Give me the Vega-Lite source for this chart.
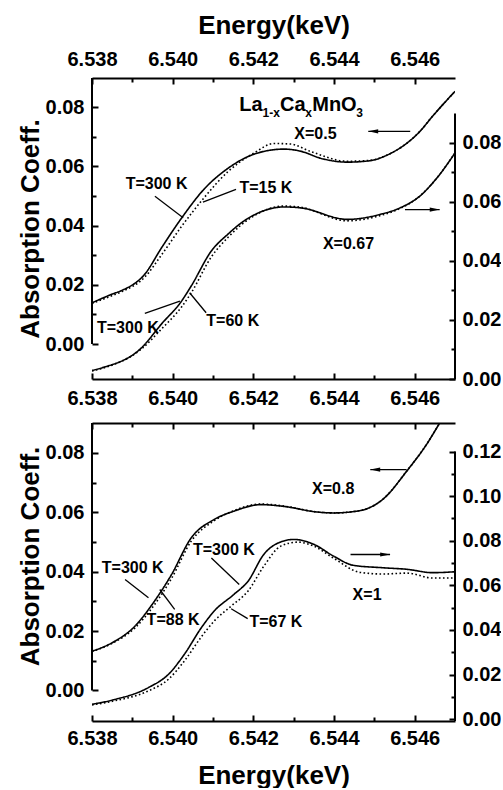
{
  "$schema": "https://vega.github.io/schema/vega-lite/v6.json",
  "padding": {"left": 17, "top": 12, "right": 0, "bottom": 0},
  "spacing": 44,
  "bounds": "flush",
  "config": {
    "font": "Liberation Sans",
    "view": {"stroke": null},
    "axis": {
      "labelFont": "Liberation Sans", "labelFontSize": 20, "labelFontWeight": "bold", "labelColor": "black",
      "titleFont": "Liberation Sans", "titleFontSize": 26, "titleFontWeight": "bold", "titleColor": "black",
      "tickColor": "black", "tickWidth": 2, "domainColor": "black", "domainWidth": 2, "grid": false,
      "labelFlush": false, "labelOverlap": false
    }
  },
  "datasets": {
    "x05": [
      {"E": 6.5380, "A": 0.0139, "T": 300}, {"E": 6.53849, "A": 0.0168, "T": 300}, {"E": 6.53874, "A": 0.0181, "T": 300},
      {"E": 6.53931, "A": 0.0236, "T": 300}, {"E": 6.53972, "A": 0.0324, "T": 300}, {"E": 6.54022, "A": 0.0425, "T": 300},
      {"E": 6.54078, "A": 0.0523, "T": 300}, {"E": 6.54138, "A": 0.0594, "T": 300}, {"E": 6.54202, "A": 0.0641, "T": 300},
      {"E": 6.54276, "A": 0.0658, "T": 300}, {"E": 6.54317, "A": 0.0651, "T": 300}, {"E": 6.54367, "A": 0.0627, "T": 300},
      {"E": 6.54433, "A": 0.0614, "T": 300}, {"E": 6.54490, "A": 0.0619, "T": 300}, {"E": 6.54532, "A": 0.0638, "T": 300},
      {"E": 6.54613, "A": 0.0718, "T": 300}, {"E": 6.54645, "A": 0.0770, "T": 300}, {"E": 6.5470, "A": 0.0853, "T": 300},
      {"E": 6.5380, "A": 0.0137, "T": 15}, {"E": 6.53849, "A": 0.0163, "T": 15}, {"E": 6.53874, "A": 0.0177, "T": 15},
      {"E": 6.53931, "A": 0.0226, "T": 15}, {"E": 6.53972, "A": 0.0300, "T": 15}, {"E": 6.54022, "A": 0.0397, "T": 15},
      {"E": 6.54078, "A": 0.0494, "T": 15}, {"E": 6.54138, "A": 0.0583, "T": 15}, {"E": 6.54202, "A": 0.0645, "T": 15},
      {"E": 6.54251, "A": 0.0677, "T": 15}, {"E": 6.54293, "A": 0.0675, "T": 15}, {"E": 6.54342, "A": 0.0650, "T": 15},
      {"E": 6.54433, "A": 0.0617, "T": 15}, {"E": 6.54490, "A": 0.0620, "T": 15}, {"E": 6.54532, "A": 0.0638, "T": 15},
      {"E": 6.54613, "A": 0.0718, "T": 15}, {"E": 6.54645, "A": 0.0770, "T": 15}, {"E": 6.5470, "A": 0.0853, "T": 15}
    ],
    "x067": [
      {"E": 6.5380, "A": 0.0029, "T": 300}, {"E": 6.53825, "A": 0.0038, "T": 300}, {"E": 6.53923, "A": 0.0106, "T": 300},
      {"E": 6.53972, "A": 0.0186, "T": 300}, {"E": 6.54022, "A": 0.0264, "T": 300}, {"E": 6.54046, "A": 0.0315, "T": 300},
      {"E": 6.54096, "A": 0.0434, "T": 300}, {"E": 6.54138, "A": 0.0492, "T": 300}, {"E": 6.54170, "A": 0.0529, "T": 300},
      {"E": 6.54202, "A": 0.0556, "T": 300}, {"E": 6.54276, "A": 0.0583, "T": 300}, {"E": 6.54317, "A": 0.0580, "T": 300},
      {"E": 6.54433, "A": 0.0541, "T": 300}, {"E": 6.54515, "A": 0.0558, "T": 300}, {"E": 6.54564, "A": 0.0580, "T": 300},
      {"E": 6.54613, "A": 0.0620, "T": 300}, {"E": 6.54655, "A": 0.0681, "T": 300}, {"E": 6.5470, "A": 0.0766, "T": 300},
      {"E": 6.5380, "A": 0.0027, "T": 60}, {"E": 6.53825, "A": 0.0036, "T": 60}, {"E": 6.53923, "A": 0.0102, "T": 60},
      {"E": 6.53972, "A": 0.0169, "T": 60}, {"E": 6.54022, "A": 0.0244, "T": 60}, {"E": 6.54046, "A": 0.0292, "T": 60},
      {"E": 6.54096, "A": 0.0414, "T": 60}, {"E": 6.54138, "A": 0.0481, "T": 60}, {"E": 6.54170, "A": 0.0522, "T": 60},
      {"E": 6.54202, "A": 0.0553, "T": 60}, {"E": 6.54276, "A": 0.0586, "T": 60}, {"E": 6.54317, "A": 0.0582, "T": 60},
      {"E": 6.54433, "A": 0.0536, "T": 60}, {"E": 6.54515, "A": 0.0554, "T": 60}, {"E": 6.54564, "A": 0.0578, "T": 60},
      {"E": 6.54613, "A": 0.0620, "T": 60}, {"E": 6.54655, "A": 0.0681, "T": 60}, {"E": 6.5470, "A": 0.0766, "T": 60}
    ],
    "x08": [
      {"E": 6.5380, "A": 0.0132, "T": 300}, {"E": 6.53849, "A": 0.0160, "T": 300}, {"E": 6.53906, "A": 0.0216, "T": 300},
      {"E": 6.53955, "A": 0.0301, "T": 300}, {"E": 6.53997, "A": 0.0390, "T": 300}, {"E": 6.54046, "A": 0.0514, "T": 300},
      {"E": 6.54103, "A": 0.0576, "T": 300}, {"E": 6.54152, "A": 0.0604, "T": 300}, {"E": 6.54219, "A": 0.0626, "T": 300},
      {"E": 6.54276, "A": 0.0620, "T": 300}, {"E": 6.54359, "A": 0.0601, "T": 300}, {"E": 6.54399, "A": 0.0598, "T": 300},
      {"E": 6.54465, "A": 0.0606, "T": 300}, {"E": 6.54522, "A": 0.0645, "T": 300}, {"E": 6.54581, "A": 0.0740, "T": 300},
      {"E": 6.54630, "A": 0.0830, "T": 300}, {"E": 6.54662, "A": 0.0901, "T": 300}, {"E": 6.5470, "A": 0.0990, "T": 300},
      {"E": 6.5380, "A": 0.0131, "T": 88}, {"E": 6.53849, "A": 0.0158, "T": 88}, {"E": 6.53906, "A": 0.0210, "T": 88},
      {"E": 6.53955, "A": 0.0289, "T": 88}, {"E": 6.53997, "A": 0.0377, "T": 88}, {"E": 6.54046, "A": 0.0503, "T": 88},
      {"E": 6.54103, "A": 0.0572, "T": 88}, {"E": 6.54152, "A": 0.0606, "T": 88}, {"E": 6.54219, "A": 0.0628, "T": 88},
      {"E": 6.54276, "A": 0.0621, "T": 88}, {"E": 6.54359, "A": 0.0601, "T": 88}, {"E": 6.54399, "A": 0.0598, "T": 88},
      {"E": 6.54465, "A": 0.0606, "T": 88}, {"E": 6.54522, "A": 0.0645, "T": 88}, {"E": 6.54581, "A": 0.0740, "T": 88},
      {"E": 6.54630, "A": 0.0830, "T": 88}, {"E": 6.54662, "A": 0.0901, "T": 88}, {"E": 6.5470, "A": 0.0990, "T": 88}
    ],
    "x1": [
      {"E": 6.5380, "A": 0.0067, "T": 300}, {"E": 6.53849, "A": 0.0085, "T": 300}, {"E": 6.53940, "A": 0.0142, "T": 300},
      {"E": 6.53990, "A": 0.0202, "T": 300}, {"E": 6.54029, "A": 0.0291, "T": 300}, {"E": 6.54071, "A": 0.0410, "T": 300},
      {"E": 6.54103, "A": 0.0485, "T": 300}, {"E": 6.54152, "A": 0.0560, "T": 300}, {"E": 6.54187, "A": 0.0619, "T": 300},
      {"E": 6.54226, "A": 0.0739, "T": 300}, {"E": 6.54268, "A": 0.0795, "T": 300}, {"E": 6.54300, "A": 0.0806, "T": 300},
      {"E": 6.54350, "A": 0.0784, "T": 300}, {"E": 6.54399, "A": 0.0731, "T": 300}, {"E": 6.54448, "A": 0.0690, "T": 300},
      {"E": 6.54522, "A": 0.0679, "T": 300}, {"E": 6.54581, "A": 0.0672, "T": 300}, {"E": 6.54645, "A": 0.0657, "T": 300},
      {"E": 6.5470, "A": 0.0661, "T": 300},
      {"E": 6.5380, "A": 0.0064, "T": 67}, {"E": 6.53849, "A": 0.0080, "T": 67}, {"E": 6.53940, "A": 0.0127, "T": 67},
      {"E": 6.53990, "A": 0.0180, "T": 67}, {"E": 6.54029, "A": 0.0261, "T": 67}, {"E": 6.54071, "A": 0.0369, "T": 67},
      {"E": 6.54103, "A": 0.0440, "T": 67}, {"E": 6.54145, "A": 0.0507, "T": 67}, {"E": 6.54187, "A": 0.0575, "T": 67},
      {"E": 6.54226, "A": 0.0686, "T": 67}, {"E": 6.54268, "A": 0.0776, "T": 67}, {"E": 6.54310, "A": 0.0794, "T": 67},
      {"E": 6.54350, "A": 0.0776, "T": 67}, {"E": 6.54399, "A": 0.0722, "T": 67}, {"E": 6.54465, "A": 0.0658, "T": 67},
      {"E": 6.54522, "A": 0.0651, "T": 67}, {"E": 6.54581, "A": 0.0655, "T": 67}, {"E": 6.54645, "A": 0.0633, "T": 67},
      {"E": 6.5470, "A": 0.0633, "T": 67}
    ],
    "lab_t": [
      {"E": 6.5396, "A": 0.0523, "label": "T=300 K"},
      {"E": 6.54231, "A": 0.0509, "label": "T=15 K"},
      {"E": 6.54354, "A": 0.0691, "label": "X=0.5"},
      {"E": 6.54436, "A": 0.0320, "label": "X=0.67"},
      {"E": 6.53889, "A": 0.0038, "label": "T=300 K"},
      {"E": 6.54149, "A": 0.0061, "label": "T=60 K"}
    ],
    "lead_t": [
      {"E": 6.53956, "A": 0.0499, "E2": 6.54026, "A2": 0.0426},
      {"E": 6.54157, "A": 0.0522, "E2": 6.54075, "A2": 0.0479},
      {"E": 6.53931, "A": 0.01035, "E2": 6.54018, "A2": 0.0145},
      {"E": 6.54083, "A": 0.01056, "E2": 6.54042, "A2": 0.0173}
    ],
    "arr_t": [
      {"E": 6.54485, "E2": 6.54589, "A": 0.0718, "dir": "left"},
      {"E": 6.54662, "E2": 6.54576, "A": 0.0454, "dir": "right"}
    ],
    "lab_b": [
      {"E": 6.54398, "A": 0.0663, "label": "X=0.8"},
      {"E": 6.53901, "A": 0.0394, "label": "T=300 K"},
      {"E": 6.54001, "A": 0.0219, "label": "T=88 K"},
      {"E": 6.54127, "A": 0.0456, "label": "T=300 K"},
      {"E": 6.54256, "A": 0.0213, "label": "T=67 K"},
      {"E": 6.54482, "A": 0.0306, "label": "X=1"}
    ],
    "lead_b": [
      {"E": 6.53882, "A": 0.0374, "E2": 6.5394, "A2": 0.0312},
      {"E": 6.54005, "A": 0.0273, "E2": 6.53968, "A2": 0.0340},
      {"E": 6.54096, "A": 0.0446, "E2": 6.54165, "A2": 0.0357},
      {"E": 6.54186, "A": 0.0242, "E2": 6.54145, "A2": 0.0275}
    ],
    "arr_b": [
      {"E": 6.5449, "E2": 6.5458, "A": 0.0744, "dir": "left"},
      {"E": 6.54539, "E2": 6.54441, "A": 0.0458, "dir": "right"}
    ],
    "form_main": [
      {"E": 6.54165, "A": 0.0786, "t": "La"},
      {"E": 6.54266, "A": 0.0786, "t": "Ca"},
      {"E": 6.54346, "A": 0.0786, "t": "MnO"}
    ],
    "form_sub": [
      {"E": 6.54223, "A": 0.0766, "t": "1-x"},
      {"E": 6.54329, "A": 0.0766, "t": "x"},
      {"E": 6.54455, "A": 0.0766, "t": "3"}
    ]
  },
  "vconcat": [
    {
      "width": 363, "height": 301,
      "resolve": {"scale": {"y": "independent"}, "axis": {"x": "independent", "y": "independent"}},
      "layer": [
        {
          "data": {"name": "x05"},
          "mark": {"type": "line", "interpolate": "monotone", "clip": true, "color": "black", "strokeWidth": 1.6},
          "encoding": {
            "x": {"field": "E", "type": "quantitative", "scale": {"domain": [6.538, 6.547], "nice": false, "zero": false},
                  "axis": {"orient": "bottom", "values": [6.538, 6.540, 6.542, 6.544, 6.546], "format": ".3f", "tickSize": -6, "labelPadding": 15, "title": null}},
            "y": {"field": "A", "type": "quantitative", "scale": {"domain": [-0.0118, 0.0898], "nice": false, "zero": false},
                  "axis": {"orient": "left", "values": [0, 0.02, 0.04, 0.06, 0.08], "format": ".2f", "tickSize": -6, "labelPadding": 14, "domain": false, "title": "Absorption Coeff.", "titlePadding": 2}},
            "detail": {"field": "T", "type": "nominal"},
            "strokeDash": {"condition": {"test": "datum.T == 300", "value": [1, 0]}, "value": [1.6, 2.4]}
          }
        },
        {
          "data": {"name": "x067"},
          "mark": {"type": "line", "interpolate": "monotone", "clip": true, "color": "black", "strokeWidth": 1.6},
          "encoding": {
            "x": {"field": "E", "type": "quantitative", "scale": {"domain": [6.538, 6.547], "nice": false, "zero": false},
                  "axis": {"orient": "top", "values": [6.538, 6.540, 6.542, 6.544, 6.546], "format": ".3f", "tickSize": -6, "labelPadding": 15, "title": "Energy(keV)", "titlePadding": 11}},
            "y": {"field": "A", "type": "quantitative", "scale": {"domain": [0, 0.102], "nice": false, "zero": false},
                  "axis": {"orient": "right", "values": [0, 0.02, 0.04, 0.06, 0.08], "format": ".2f", "tickSize": -6, "labelPadding": 13, "domain": false, "title": null}},
            "detail": {"field": "T", "type": "nominal"},
            "strokeDash": {"condition": {"test": "datum.T == 300", "value": [1, 0]}, "value": [1.6, 2.4]}
          }
        },
        {
          "data": {"values": [{}]},
          "mark": {"type": "rule", "color": "black", "strokeWidth": 2},
          "encoding": {
            "x": {"datum": 6.538, "type": "quantitative", "scale": {"domain": [6.538, 6.547], "nice": false, "zero": false},
                  "axis": {"orient": "bottom", "values": [6.539, 6.541, 6.543, 6.545], "labels": false, "tickSize": -4, "domain": false, "title": null}},
            "y": {"datum": 0, "type": "quantitative", "scale": {"domain": [-0.0118, 0.0898], "nice": false, "zero": false},
                  "axis": {"orient": "left", "values": [0.01, 0.03, 0.05, 0.07], "labels": false, "tickSize": -4, "domain": false, "title": null}},
            "y2": {"datum": 0.0898}
          }
        },
        {
          "data": {"values": [{}]},
          "mark": {"type": "rule", "color": "black", "strokeWidth": 2},
          "encoding": {
            "x": {"datum": 6.547, "type": "quantitative", "scale": {"domain": [6.538, 6.547], "nice": false, "zero": false},
                  "axis": {"orient": "top", "values": [6.539, 6.541, 6.543, 6.545], "labels": false, "tickSize": -4, "domain": false, "title": null}},
            "y": {"datum": 0, "type": "quantitative", "scale": {"domain": [0, 0.102], "nice": false, "zero": false},
                  "axis": {"orient": "right", "values": [0.01, 0.03, 0.05, 0.07], "labels": false, "tickSize": -4, "domain": false, "title": null}},
            "y2": {"datum": 0.090}
          }
        },
        {
          "data": {"name": "lab_t"},
          "mark": {"type": "text", "font": "Liberation Sans", "fontSize": 16, "fontWeight": "bold", "align": "center", "baseline": "alphabetic", "color": "black"},
          "encoding": {
            "x": {"field": "E", "type": "quantitative", "scale": {"domain": [6.538, 6.547], "nice": false, "zero": false}, "axis": null},
            "y": {"field": "A", "type": "quantitative", "scale": {"domain": [-0.0118, 0.0898], "nice": false, "zero": false}, "axis": null},
            "text": {"field": "label"}
          }
        },
        {
          "data": {"name": "lead_t"},
          "mark": {"type": "rule", "color": "black", "strokeWidth": 1.3},
          "encoding": {
            "x": {"field": "E", "type": "quantitative", "scale": {"domain": [6.538, 6.547], "nice": false, "zero": false}, "axis": null},
            "y": {"field": "A", "type": "quantitative", "scale": {"domain": [-0.0118, 0.0898], "nice": false, "zero": false}, "axis": null},
            "x2": {"field": "E2"},
            "y2": {"field": "A2"}
          }
        },
        {
          "data": {"name": "arr_t"},
          "mark": {"type": "rule", "color": "black", "strokeWidth": 1.3},
          "encoding": {
            "x": {"field": "E", "type": "quantitative", "scale": {"domain": [6.538, 6.547], "nice": false, "zero": false}, "axis": null},
            "y": {"field": "A", "type": "quantitative", "scale": {"domain": [-0.0118, 0.0898], "nice": false, "zero": false}, "axis": null},
            "x2": {"field": "E2"}
          }
        },
        {
          "data": {"name": "arr_t"},
          "mark": {"type": "point", "filled": true, "color": "black", "opacity": 1, "size": 36},
          "encoding": {
            "x": {"field": "E", "type": "quantitative", "scale": {"domain": [6.538, 6.547], "nice": false, "zero": false}, "axis": null},
            "y": {"field": "A", "type": "quantitative", "scale": {"domain": [-0.0118, 0.0898], "nice": false, "zero": false}, "axis": null},
            "shape": {"condition": {"test": "datum.dir === 'left'", "value": "M0,0L3.3,-0.7L3.3,0.7Z"}, "value": "M0,0L-3.3,-0.7L-3.3,0.7Z"}
          }
        },
        {
          "data": {"name": "form_main"},
          "mark": {"type": "text", "font": "Liberation Sans", "fontSize": 20, "fontWeight": "bold", "align": "left", "baseline": "alphabetic", "color": "black"},
          "encoding": {
            "x": {"field": "E", "type": "quantitative", "scale": {"domain": [6.538, 6.547], "nice": false, "zero": false}, "axis": null},
            "y": {"field": "A", "type": "quantitative", "scale": {"domain": [-0.0118, 0.0898], "nice": false, "zero": false}, "axis": null},
            "text": {"field": "t"}
          }
        },
        {
          "data": {"name": "form_sub"},
          "mark": {"type": "text", "font": "Liberation Sans", "fontSize": 12, "fontWeight": "bold", "align": "left", "baseline": "alphabetic", "color": "black"},
          "encoding": {
            "x": {"field": "E", "type": "quantitative", "scale": {"domain": [6.538, 6.547], "nice": false, "zero": false}, "axis": null},
            "y": {"field": "A", "type": "quantitative", "scale": {"domain": [-0.0118, 0.0898], "nice": false, "zero": false}, "axis": null},
            "text": {"field": "t"}
          }
        }
      ]
    },
    {
      "width": 363, "height": 298,
      "resolve": {"scale": {"y": "independent"}, "axis": {"x": "independent", "y": "independent"}},
      "layer": [
        {
          "data": {"name": "x08"},
          "mark": {"type": "line", "interpolate": "monotone", "clip": true, "color": "black", "strokeWidth": 1.6},
          "encoding": {
            "x": {"field": "E", "type": "quantitative", "scale": {"domain": [6.538, 6.547], "nice": false, "zero": false},
                  "axis": {"orient": "bottom", "values": [6.538, 6.540, 6.542, 6.544, 6.546], "format": ".3f", "tickSize": -6, "labelPadding": 13, "title": "Energy(keV)", "titlePadding": 14}},
            "y": {"field": "A", "type": "quantitative", "scale": {"domain": [-0.0103, 0.0901], "nice": false, "zero": false},
                  "axis": {"orient": "left", "values": [0, 0.02, 0.04, 0.06, 0.08], "format": ".2f", "tickSize": -6, "labelPadding": 14, "domain": false, "title": "Absorption Coeff.", "titlePadding": 2, "titleY": 133}},
            "detail": {"field": "T", "type": "nominal"},
            "strokeDash": {"condition": {"test": "datum.T == 300", "value": [1, 0]}, "value": [1.6, 2.4]}
          }
        },
        {
          "data": {"name": "x1"},
          "mark": {"type": "line", "interpolate": "monotone", "clip": true, "color": "black", "strokeWidth": 1.6},
          "encoding": {
            "x": {"field": "E", "type": "quantitative", "scale": {"domain": [6.538, 6.547], "nice": false, "zero": false},
                  "axis": {"orient": "top", "values": [6.538, 6.540, 6.542, 6.544, 6.546], "labels": false, "tickSize": -6, "title": null}},
            "y": {"field": "A", "type": "quantitative", "scale": {"domain": [-0.0008, 0.1328], "nice": false, "zero": false},
                  "axis": {"orient": "right", "values": [0, 0.02, 0.04, 0.06, 0.08, 0.10, 0.12], "format": ".2f", "tickSize": -6, "labelPadding": 13, "domain": false, "title": null}},
            "detail": {"field": "T", "type": "nominal"},
            "strokeDash": {"condition": {"test": "datum.T == 300", "value": [1, 0]}, "value": [1.6, 2.4]}
          }
        },
        {
          "data": {"values": [{}]},
          "mark": {"type": "rule", "color": "black", "strokeWidth": 2},
          "encoding": {
            "x": {"datum": 6.538, "type": "quantitative", "scale": {"domain": [6.538, 6.547], "nice": false, "zero": false},
                  "axis": {"orient": "bottom", "values": [6.539, 6.541, 6.543, 6.545], "labels": false, "tickSize": -4, "domain": false, "title": null}},
            "y": {"datum": 0, "type": "quantitative", "scale": {"domain": [-0.0103, 0.0901], "nice": false, "zero": false},
                  "axis": {"orient": "left", "values": [0.01, 0.03, 0.05, 0.07], "labels": false, "tickSize": -4, "domain": false, "title": null}},
            "y2": {"datum": 0.0901}
          }
        },
        {
          "data": {"values": [{}]},
          "mark": {"type": "rule", "color": "black", "strokeWidth": 2},
          "encoding": {
            "x": {"datum": 6.547, "type": "quantitative", "scale": {"domain": [6.538, 6.547], "nice": false, "zero": false},
                  "axis": {"orient": "top", "values": [6.539, 6.541, 6.543, 6.545], "labels": false, "tickSize": -4, "domain": false, "title": null}},
            "y": {"datum": -0.0008, "type": "quantitative", "scale": {"domain": [-0.0008, 0.1328], "nice": false, "zero": false},
                  "axis": {"orient": "right", "values": [0.01, 0.03, 0.05, 0.07, 0.09, 0.11], "labels": false, "tickSize": -4, "domain": false, "title": null}},
            "y2": {"datum": 0.12}
          }
        },
        {
          "data": {"name": "lab_b"},
          "mark": {"type": "text", "font": "Liberation Sans", "fontSize": 16, "fontWeight": "bold", "align": "center", "baseline": "alphabetic", "color": "black"},
          "encoding": {
            "x": {"field": "E", "type": "quantitative", "scale": {"domain": [6.538, 6.547], "nice": false, "zero": false}, "axis": null},
            "y": {"field": "A", "type": "quantitative", "scale": {"domain": [-0.0103, 0.0901], "nice": false, "zero": false}, "axis": null},
            "text": {"field": "label"}
          }
        },
        {
          "data": {"name": "lead_b"},
          "mark": {"type": "rule", "color": "black", "strokeWidth": 1.3},
          "encoding": {
            "x": {"field": "E", "type": "quantitative", "scale": {"domain": [6.538, 6.547], "nice": false, "zero": false}, "axis": null},
            "y": {"field": "A", "type": "quantitative", "scale": {"domain": [-0.0103, 0.0901], "nice": false, "zero": false}, "axis": null},
            "x2": {"field": "E2"},
            "y2": {"field": "A2"}
          }
        },
        {
          "data": {"name": "arr_b"},
          "mark": {"type": "rule", "color": "black", "strokeWidth": 1.3},
          "encoding": {
            "x": {"field": "E", "type": "quantitative", "scale": {"domain": [6.538, 6.547], "nice": false, "zero": false}, "axis": null},
            "y": {"field": "A", "type": "quantitative", "scale": {"domain": [-0.0103, 0.0901], "nice": false, "zero": false}, "axis": null},
            "x2": {"field": "E2"}
          }
        },
        {
          "data": {"name": "arr_b"},
          "mark": {"type": "point", "filled": true, "color": "black", "opacity": 1, "size": 36},
          "encoding": {
            "x": {"field": "E", "type": "quantitative", "scale": {"domain": [6.538, 6.547], "nice": false, "zero": false}, "axis": null},
            "y": {"field": "A", "type": "quantitative", "scale": {"domain": [-0.0103, 0.0901], "nice": false, "zero": false}, "axis": null},
            "shape": {"condition": {"test": "datum.dir === 'left'", "value": "M0,0L3.3,-0.7L3.3,0.7Z"}, "value": "M0,0L-3.3,-0.7L-3.3,0.7Z"}
          }
        }
      ]
    }
  ]
}
